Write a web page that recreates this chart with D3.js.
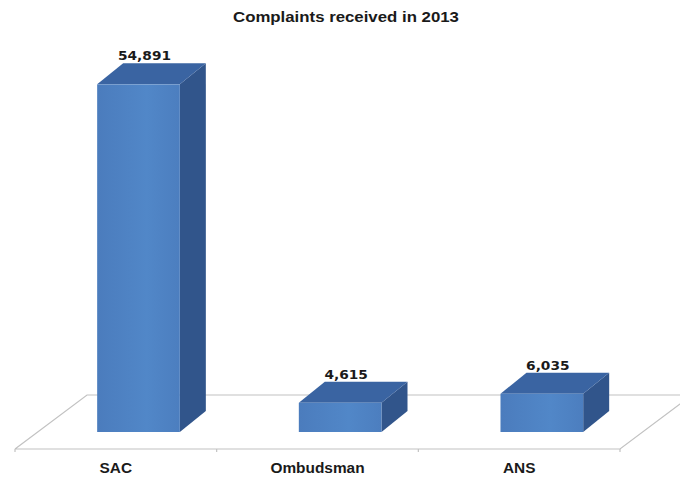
<!DOCTYPE html>
<html>
<head>
<meta charset="utf-8">
<script src="https://cdn.jsdelivr.net/npm/d3@7"></script>
<style>
  html, body { margin: 0; padding: 0; background: #fff; }
  svg { display: block; }
</style>
</head>
<body>
<svg id="chart" width="680" height="477"></svg>
<script>
// Complaints received in 2013, by channel
const categories = ["SAC", "Ombudsman", "ANS"];
const complaints = [54891, 4615, 6035];
const valueLabels = ["54,891", "4,615", "6,035"];
const chartTitle = "Complaints received in 2013";

const svg = d3.select("#chart");

// Floor geometry (oblique projection of the category plane)
const floorFrontY = 449;
const floorLeft = 15, floorRight = 620;
const depthX = 72, depthY = 54;           // full floor depth offset
const barDepthStart = 17 / 54;            // front face position within the floor depth
const barDx = 26, barDy = 21;             // bar depth offset

const x = d3.scaleBand().domain(categories).range([floorLeft, floorRight]);
const barBaseY = floorFrontY - depthY * barDepthStart;
const barShiftX = depthX * barDepthStart;
const y = d3.scaleLinear().domain([0, 60000]).range([barBaseY, barBaseY - 380]);
const barW = x.bandwidth() * 0.41;

// Slightly widened lettering
function widen(sel, factor) {
  sel.each(function() {
    const len = this.getComputedTextLength();
    d3.select(this).attr("textLength", len * factor).attr("lengthAdjust", "spacingAndGlyphs");
  });
}

// Gradient for the bar fronts
const defs = svg.append("defs");
const g1 = defs.append("linearGradient").attr("id", "front").attr("x1", 0).attr("x2", 1).attr("y1", 0).attr("y2", 0);
g1.append("stop").attr("offset", "0%").attr("stop-color", "#4b7cbd");
g1.append("stop").attr("offset", "60%").attr("stop-color", "#5187c8");
g1.append("stop").attr("offset", "100%").attr("stop-color", "#4c7ebf");

// Title
svg.append("text")
  .attr("x", 346).attr("y", 22)
  .attr("text-anchor", "middle")
  .attr("font-family", "Liberation Sans, Arial, sans-serif")
  .attr("font-weight", "bold")
  .attr("font-size", 15)
  .attr("fill", "#1a1a1a")
  .text(chartTitle)
  .call(widen, 1.12);

// Floor
const floorPts = [
  [floorLeft, floorFrontY],
  [floorLeft + depthX, floorFrontY - depthY],
  [floorRight + depthX, floorFrontY - depthY],
  [floorRight, floorFrontY]
];
svg.append("path")
  .attr("d", d3.line()(floorPts.concat([floorPts[0]])))
  .attr("stroke", "#c2c2c2").attr("stroke-width", 1.2).attr("fill", "none");

// Category axis along the front edge of the floor
const axis = d3.axisBottom(x).tickSize(0).tickPadding(0);
const axisG = svg.append("g").attr("transform", `translate(0,${floorFrontY})`).call(axis);
axisG.select(".domain").remove();
axisG.selectAll("text")
  .attr("dy", 0).attr("y", 24)
  .attr("font-family", "Liberation Sans, Arial, sans-serif")
  .attr("font-weight", "bold")
  .attr("font-size", 14)
  .attr("fill", "#1a1a1a")
  .call(widen, 1.1);
// Division ticks between categories
const bounds = categories.map(c => x(c)).concat([floorRight]);
svg.append("g").selectAll("line").data(bounds).join("line")
  .attr("x1", d => d).attr("x2", d => d)
  .attr("y1", floorFrontY).attr("y2", floorFrontY + 3)
  .attr("stroke", "#c2c2c2").attr("stroke-width", 1.2);

// Bars
const data = categories.map((c, i) => ({ c, v: complaints[i], label: valueLabels[i] }));
const bars = svg.append("g").selectAll("g").data(data).join("g");

bars.each(function(d) {
  const g = d3.select(this);
  const x0 = x(d.c) + x.bandwidth() / 2 + barShiftX - barW / 2;
  const x1 = x0 + barW;
  const yTop = y(d.v), yBot = y(0);
  // side face
  g.append("path")
    .attr("d", d3.line()([[x1, yBot], [x1, yTop], [x1 + barDx, yTop - barDy], [x1 + barDx, yBot - barDy], [x1, yBot]]))
    .attr("fill", "#31558b");
  // top face
  g.append("path")
    .attr("d", d3.line()([[x0, yTop], [x0 + barDx, yTop - barDy], [x1 + barDx, yTop - barDy], [x1, yTop], [x0, yTop]]))
    .attr("fill", "#3a64a2");
  // front face
  g.append("rect")
    .attr("x", x0).attr("y", yTop)
    .attr("width", barW).attr("height", yBot - yTop)
    .attr("fill", "url(#front)");
  // value label
  g.append("text")
    .attr("x", x0 + barW / 2 + 6)
    .attr("y", yTop - barDy - 3)
    .attr("text-anchor", "middle")
    .attr("font-family", "DejaVu Sans, Verdana, sans-serif")
    .attr("font-weight", "bold")
    .attr("font-size", 12.5)
    .attr("fill", "#1a1a1a")
    .text(d.label)
    .call(widen, 1.1);
});
</script>
</body>
</html>
